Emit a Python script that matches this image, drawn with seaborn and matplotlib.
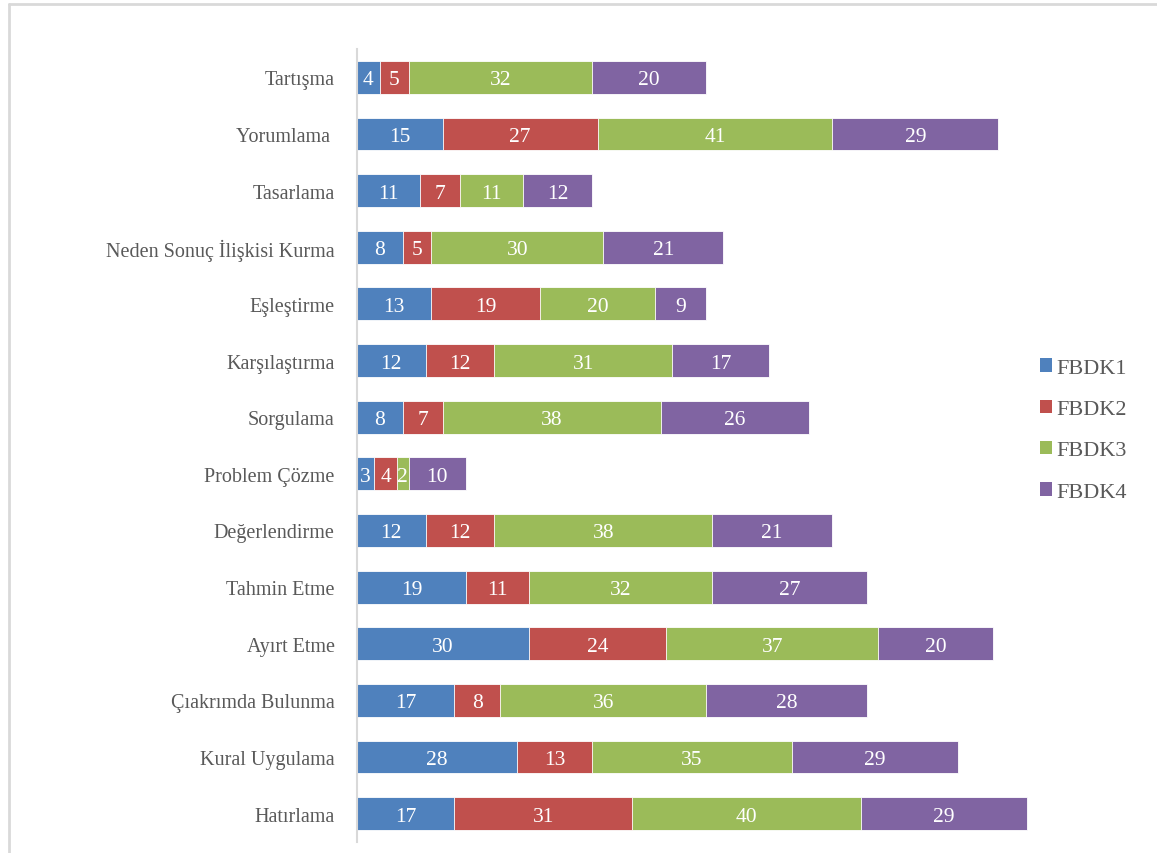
import numpy as np
import matplotlib
matplotlib.use("Agg")
import matplotlib.pyplot as plt
from matplotlib.patches import Patch
from matplotlib.lines import Line2D
import seaborn as sns

categories = [
    "Tartışma",
    "Yorumlama ",
    "Tasarlama",
    "Neden Sonuç İlişkisi Kurma",
    "Eşleştirme",
    "Karşılaştırma",
    "Sorgulama",
    "Problem Çözme",
    "Değerlendirme",
    "Tahmin Etme",
    "Ayırt Etme",
    "Çıakrımda Bulunma",
    "Kural Uygulama",
    "Hatırlama",
]
series_names = ["FBDK1", "FBDK2", "FBDK3", "FBDK4"]
fbdk1 = [4, 15, 11, 8, 13, 12, 8, 3, 12, 19, 30, 17, 28, 17]
fbdk2 = [5, 27, 7, 5, 19, 12, 7, 4, 12, 11, 24, 8, 13, 31]
fbdk3 = [32, 41, 11, 30, 20, 31, 38, 2, 38, 32, 37, 36, 35, 40]
fbdk4 = [20, 29, 12, 21, 9, 17, 26, 10, 21, 27, 20, 28, 29, 29]
colors = ["#4F81BD", "#C0504D", "#9BBB59", "#8064A2"]

sns.set_theme(style="white")
plt.rcParams["font.family"] = ["Liberation Serif", "DejaVu Serif"]

text_color = "#595959"
series = [np.array(fbdk1), np.array(fbdk2), np.array(fbdk3), np.array(fbdk4)]
cums = np.cumsum(np.vstack(series), axis=0)

fig = plt.figure(figsize=(11.57, 8.54), dpi=100)
ax = fig.add_axes([357 / 1157, 11 / 854, (1030 - 357) / 1157, (843 - 50) / 854])

# stacked bars: draw cumulative totals from the outermost segment inward
for k in range(3, -1, -1):
    sns.barplot(x=cums[k], y=categories, orient="h", color=colors[k],
                saturation=1, width=0.58, edgecolor="white", linewidth=0.6,
                ax=ax)

# value labels centered in each segment
for k in range(4):
    start = cums[k] - series[k]
    for i, v in enumerate(series[k]):
        ax.text(start[i] + v / 2, i, str(v), ha="center",
                va="center_baseline", color="white", fontsize=15.5)

ax.set_xlim(0, 673 / (670 / 117))
ax.set_ylim(13.5, -0.5)
ax.set_xlabel("")
ax.set_ylabel("")
ax.set_xticks([])
for s in ["top", "right", "bottom"]:
    ax.spines[s].set_visible(False)
ax.spines["left"].set_color("#d9d9d9")
ax.spines["left"].set_linewidth(1.5)
ax.tick_params(axis="y", length=0, pad=16, labelsize=14.5, labelcolor=text_color)

handles = [Patch(facecolor=c, edgecolor="none") for c in colors]
fig.legend(handles, series_names, loc="center left",
           bbox_to_anchor=(1020 / 1157, 1 - 431 / 854), frameon=False,
           fontsize=16, labelcolor=text_color, handlelength=0.55,
           handleheight=0.55, handletextpad=0.2, labelspacing=0.98)

# chart area frame
fig.add_artist(Line2D([9 / 1157, 1.0], [1 - 5 / 854, 1 - 5 / 854],
                      transform=fig.transFigure, color="#d9d9d9", lw=2))
fig.add_artist(Line2D([9 / 1157, 9 / 1157], [0.0, 1 - 5 / 854],
                      transform=fig.transFigure, color="#d9d9d9", lw=2))

fig.savefig("out.png", dpi=100)
